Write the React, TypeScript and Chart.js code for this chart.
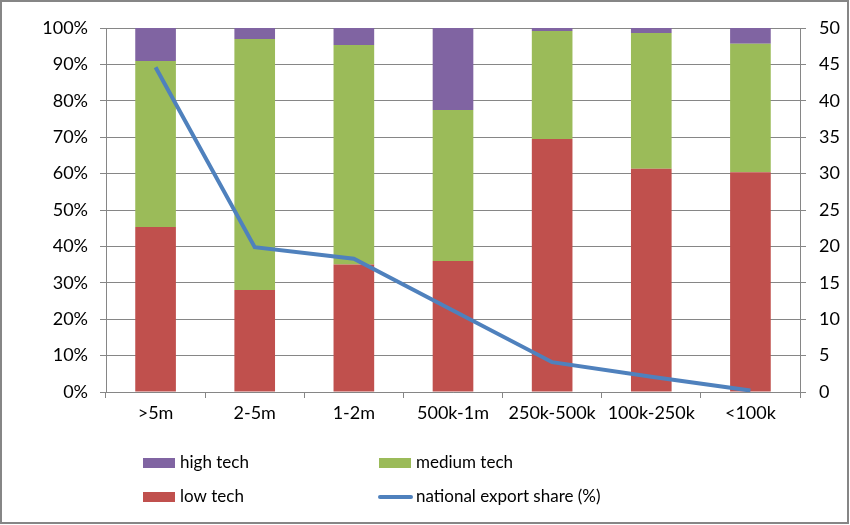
import React, { useEffect, useRef } from "react";
import { Chart, registerables } from "chart.js";

Chart.register(...registerables);

const categories = [">5m", "2-5m", "1-2m", "500k-1m", "250k-500k", "100k-250k", "<100k"];
const lowTech = [45.3, 28.0, 35.0, 36.0, 69.5, 61.3, 60.4];
const mediumTech = [45.6, 69.0, 60.3, 41.5, 29.7, 37.3, 35.3];
const highTech = [9.1, 3.0, 4.7, 22.5, 0.8, 1.4, 4.3];
const exportShare = [44.6, 19.9, 18.3, 11.2, 4.1, 2.1, 0.2];

const leftTicks = [0, 10, 20, 30, 40, 50, 60, 70, 80, 90, 100];

const COLORS = {
  low: "#C0504D",
  medium: "#9BBB59",
  high: "#8064A2",
  line: "#4F81BD",
  grid: "#868686",
};

const FONT = "Lato";

const framePlugin = {
  id: "frame",
  beforeDraw(chart: any) {
    const ctx = chart.ctx;
    ctx.save();
    ctx.fillStyle = "#ffffff";
    ctx.fillRect(0, 0, chart.width, chart.height);
    ctx.strokeStyle = COLORS.grid;
    ctx.lineWidth = 2;
    ctx.strokeRect(1, 1, chart.width - 3, chart.height - 3);
    ctx.restore();
  },
};

const legendPlugin = {
  id: "customLegend",
  afterDraw(chart: any) {
    const ctx = chart.ctx;
    const ds = chart.data.datasets;
    const byLabel = (l: string) => ds.find((d: any) => d.label === l);
    const items = [
      { ds: byLabel("high tech"), x: 143, y: 463 },
      { ds: byLabel("medium tech"), x: 379, y: 463 },
      { ds: byLabel("low tech"), x: 143, y: 497 },
      { ds: byLabel("national export share (%)"), x: 379, y: 497 },
    ];
    ctx.save();
    ctx.font = `17px ${FONT}`;
    ctx.textBaseline = "middle";
    ctx.textAlign = "left";
    for (const it of items) {
      if (!it.ds) continue;
      if (it.ds.type === "line") {
        ctx.strokeStyle = it.ds.borderColor;
        ctx.lineWidth = 4;
        ctx.lineCap = "round";
        ctx.beginPath();
        ctx.moveTo(it.x + 1, it.y);
        ctx.lineTo(it.x + 32, it.y);
        ctx.stroke();
      } else {
        ctx.fillStyle = it.ds.backgroundColor;
        ctx.fillRect(it.x, it.y - 5, 32, 10);
      }
      ctx.fillStyle = "#000";
      ctx.fillText(it.ds.label, it.x + 37, it.y);
    }
    ctx.restore();
  },
};

export default function App() {
  const ref = useRef<HTMLCanvasElement | null>(null);

  useEffect(() => {
    if (!ref.current) return;
    const tickFont = { family: FONT, size: 18 };
    const chart = new Chart(ref.current, {
      data: {
        labels: categories,
        datasets: [
          {
            type: "line",
            label: "national export share (%)",
            data: exportShare,
            borderColor: COLORS.line,
            backgroundColor: COLORS.line,
            borderWidth: 4,
            pointRadius: 0,
            yAxisID: "y1",
            order: 0,
            tension: 0,
          },
          {
            type: "bar",
            label: "low tech",
            data: lowTech,
            backgroundColor: COLORS.low,
            yAxisID: "y",
            order: 1,
            barPercentage: 0.41,
            categoryPercentage: 1,
          },
          {
            type: "bar",
            label: "medium tech",
            data: mediumTech,
            backgroundColor: COLORS.medium,
            yAxisID: "y",
            order: 1,
            barPercentage: 0.41,
            categoryPercentage: 1,
          },
          {
            type: "bar",
            label: "high tech",
            data: highTech,
            backgroundColor: COLORS.high,
            yAxisID: "y",
            order: 1,
            barPercentage: 0.41,
            categoryPercentage: 1,
          },
        ],
      } as any,
      options: {
        animation: false,
        responsive: false,
        layout: { padding: { top: 28, left: 0, right: 0, bottom: 0 } },
        plugins: {
          legend: { display: false },
          tooltip: { enabled: false },
        },
        scales: {
          x: {
            stacked: true,
            offset: true,
            grid: {
              offset: true,
              drawOnChartArea: false,
              drawTicks: true,
              tickLength: 6,
              color: COLORS.grid,
            },
            border: { color: COLORS.grid, width: 1 },
            ticks: { color: "#000", font: tickFont, padding: 4, maxRotation: 0, autoSkip: false },
            afterFit: (s: any) => {
              s.height = 133;
            },
          },
          y: {
            stacked: true,
            position: "left",
            min: 0,
            max: 100,
            grid: { color: COLORS.grid, tickLength: 6, drawTicks: true },
            border: { color: COLORS.grid, width: 1 },
            afterBuildTicks: (s: any) => {
              s.ticks = leftTicks.map((v) => ({ value: v }));
            },
            ticks: {
              color: "#000",
              font: tickFont,
              padding: 12,
              callback: (v: any) => `${v}%`,
            },
            afterFit: (s: any) => {
              s.width = 106;
            },
          },
          y1: {
            position: "right",
            min: 0,
            max: 50,
            grid: { drawOnChartArea: false, color: COLORS.grid, tickLength: 6, drawTicks: true },
            border: { color: COLORS.grid, width: 1 },
            ticks: { color: "#000", font: tickFont, padding: 13, stepSize: 5 },
            afterFit: (s: any) => {
              s.width = 50;
            },
          },
        },
      },
      plugins: [framePlugin, legendPlugin],
    });
    return () => chart.destroy();
  }, []);

  return (
    <div style={{ position: "fixed", left: 0, top: 0, width: 850, height: 525 }}>
      <canvas ref={ref} width={850} height={525} style={{ display: "block" }} />
    </div>
  );
}
